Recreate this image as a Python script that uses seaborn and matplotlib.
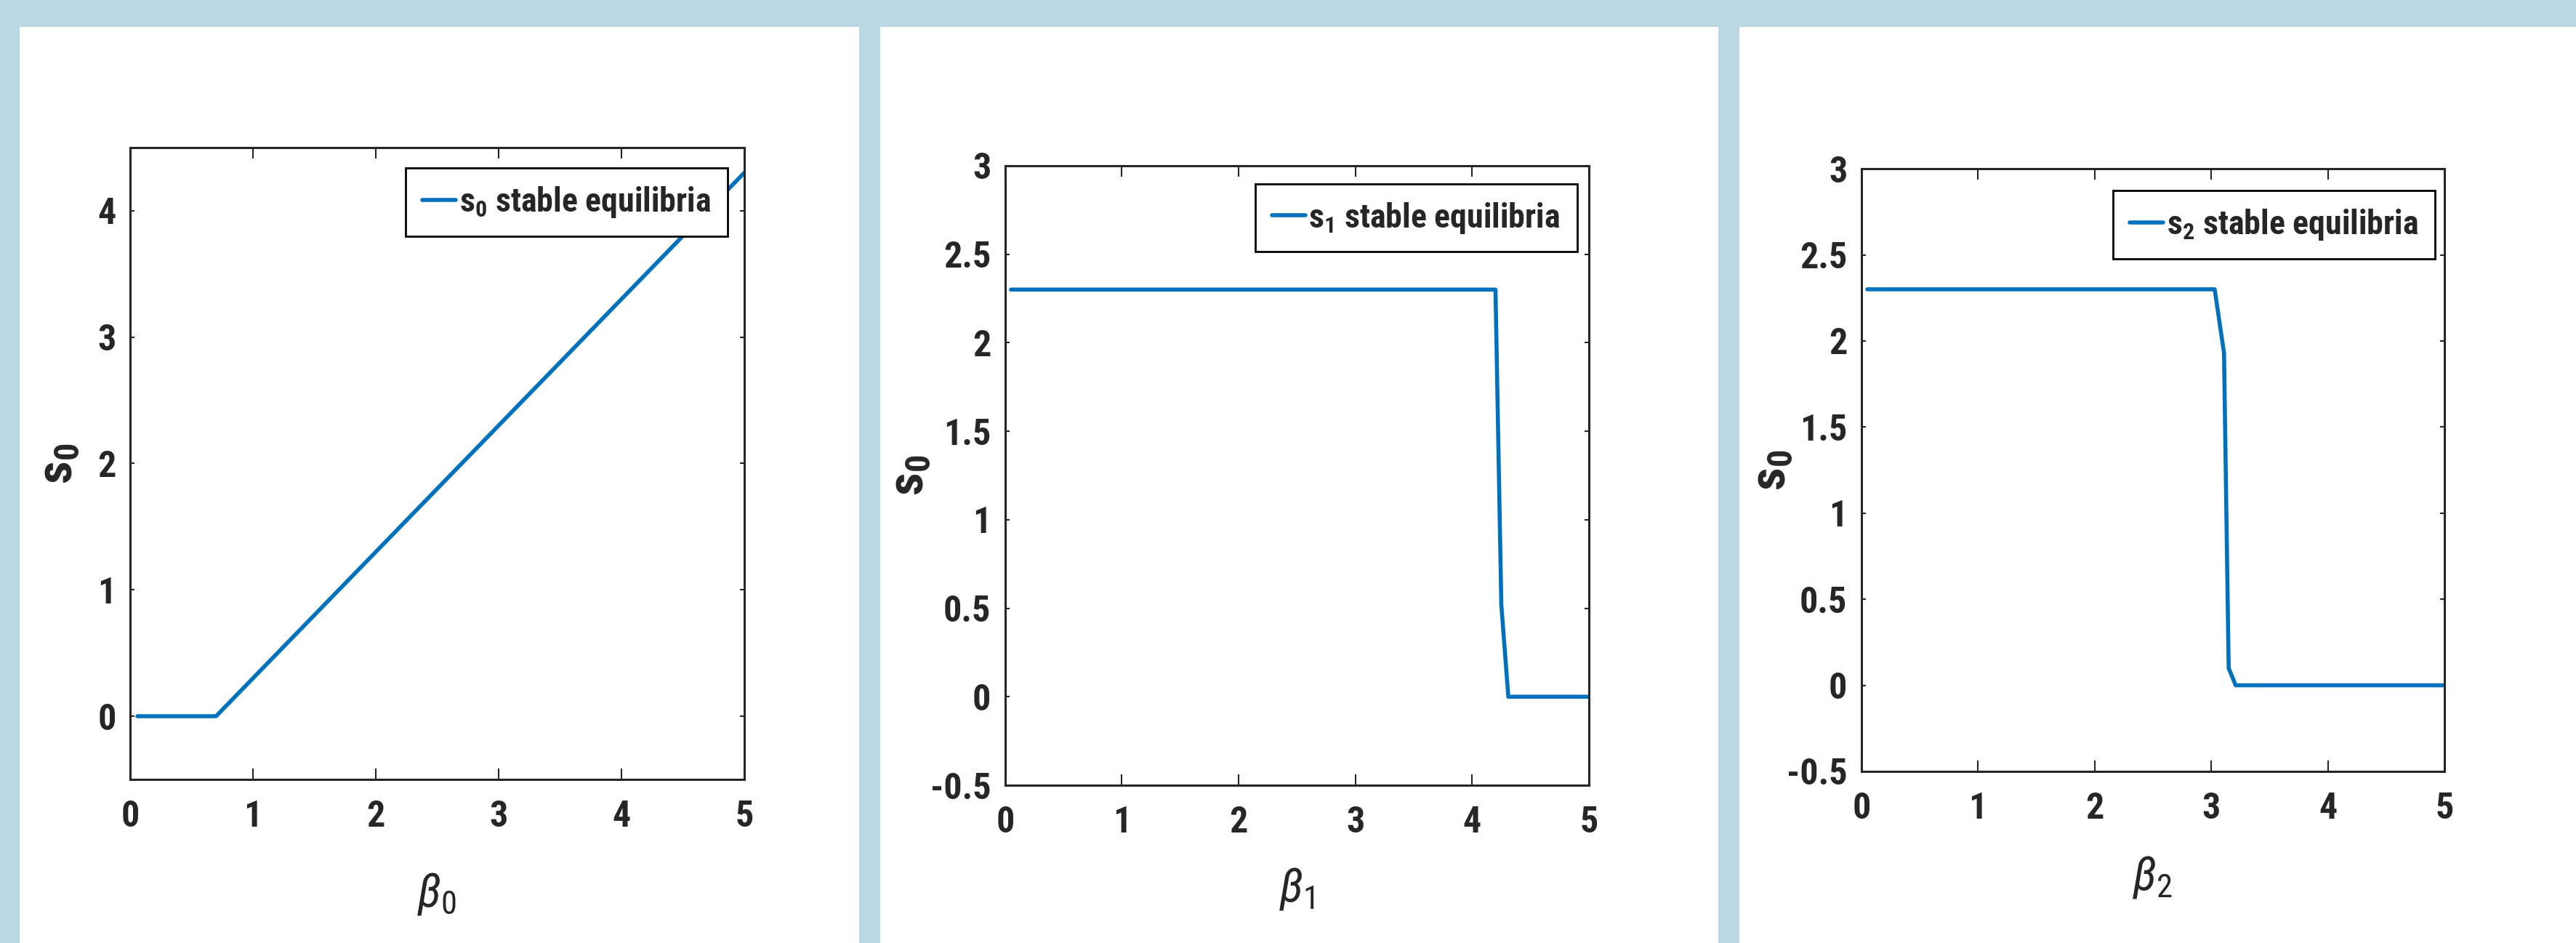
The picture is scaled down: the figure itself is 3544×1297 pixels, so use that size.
import matplotlib
matplotlib.use("Agg")
import matplotlib.pyplot as plt
from matplotlib.patches import Rectangle
import seaborn as sns

# values
beta0 = [0.06, 0.70, 5.0]
s0_vals = [0.0, 0.0, 4.3]

beta1 = [0.05, 4.20, 4.25, 4.31, 5.0]
s1_vals = [2.3, 2.3, 0.52, 0.0, 0.0]

beta2 = [0.05, 3.03, 3.11, 3.15, 3.21, 5.0]
s2_vals = [2.3, 2.3, 1.93, 0.10, 0.0, 0.0]

x_ticks = [0, 1, 2, 3, 4, 5]
x_ticklabels = ["0", "1", "2", "3", "4", "5"]
y_ticks_a = [0, 1, 2, 3, 4]
y_ticklabels_a = ["0", "1", "2", "3", "4"]
y_ticks_b = [-0.5, 0, 0.5, 1, 1.5, 2, 2.5, 3]
y_ticklabels_b = ["-0.5", "0", "0.5", "1", "1.5", "2", "2.5", "3"]

legend_labels = [r"$\mathbf{s}_{\mathbf{0}}$ stable equilibria",
                 r"$\mathbf{s}_{\mathbf{1}}$ stable equilibria",
                 r"$\mathbf{s}_{\mathbf{2}}$ stable equilibria"]
x_labels = [r"$\beta_{\mathrm{0}}$", r"$\beta_{\mathrm{1}}$", r"$\beta_{\mathrm{2}}$"]
y_label = r"$\mathbf{s}_{\mathbf{0}}$"

sns.set_theme(style="white")
plt.rcParams["font.family"] = ["Roboto Condensed", "DejaVu Sans"]
plt.rcParams["mathtext.fontset"] = "custom"
plt.rcParams["mathtext.rm"] = "Roboto Condensed"
plt.rcParams["mathtext.it"] = "Roboto Condensed:italic"
plt.rcParams["mathtext.bf"] = "Roboto Condensed:bold"

BLUE_BG = "#bad7e4"
LINE = "#0072bd"
DARK = "#262626"

fig = plt.figure(figsize=(35.44, 12.97), dpi=100, facecolor=BLUE_BG)

# white panels behind each plot
panels = [(0.0076, 0.3259), (0.3417, 0.3253), (0.6752, 0.3248)]
for x0, w in panels:
    fig.patches.append(Rectangle((x0, 0), w, 0.9715, transform=fig.transFigure,
                                 facecolor="white", edgecolor="none", zorder=-10))

axes_pos = [[0.0505, 0.1735, 0.2384, 0.670],
            [0.3902, 0.1673, 0.2266, 0.657],
            [0.7226, 0.1820, 0.2263, 0.639]]
data = [(beta0, s0_vals), (beta1, s1_vals), (beta2, s2_vals)]
ylims = [(-0.5, 4.5), (-0.5, 3), (-0.5, 3)]
yticks = [(y_ticks_a, y_ticklabels_a), (y_ticks_b, y_ticklabels_b), (y_ticks_b, y_ticklabels_b)]
leg_anchor = [(0.973, 0.968), (0.980, 0.971), (0.984, 0.964)]
ylab_x = [-0.078, -0.123, -0.113]
xlab_y = [-0.145, -0.130, -0.138]

for i in range(3):
    ax = fig.add_axes(axes_pos[i])
    ax.set_zorder(5)
    ax.set_facecolor("white")
    x, y = data[i]
    sns.lineplot(x=x, y=y, ax=ax, color=LINE, linewidth=4, sort=False,
                 estimator=None, label=legend_labels[i])
    ax.set_xlim(0, 5)
    ax.set_ylim(*ylims[i])
    ax.set_xticks(x_ticks)
    ax.set_xticklabels(x_ticklabels, fontsize=36, fontweight="bold", color=DARK)
    ax.set_yticks(yticks[i][0])
    ax.set_yticklabels(yticks[i][1], fontsize=36, fontweight="bold", color=DARK)
    for s in ax.spines.values():
        s.set_visible(True)
        s.set_color(DARK)
        s.set_linewidth(2.2)
    ax.tick_params(axis="x", direction="in", length=11, width=1.5, color=DARK,
                   top=True, bottom=True, pad=20)
    ax.tick_params(axis="y", direction="in", length=4, width=1.5, color=DARK,
                   left=True, right=True, pad=14)
    ax.set_xlabel(x_labels[i], fontsize=46, color=DARK)
    ax.xaxis.set_label_coords(0.5, xlab_y[i])
    ax.set_ylabel(y_label, fontsize=50, color=DARK)
    ax.yaxis.set_label_coords(ylab_x[i], 0.5)
    leg = ax.legend(loc="upper right", bbox_to_anchor=leg_anchor[i], borderaxespad=0,
                    frameon=True, fancybox=False, framealpha=1, edgecolor="black",
                    handlelength=1.0, handletextpad=0.1, borderpad=0.5,
                    prop={"weight": "bold", "size": 33})
    leg.get_frame().set_linewidth(2.0)

fig.savefig("out.png", dpi=100, facecolor=fig.get_facecolor())
